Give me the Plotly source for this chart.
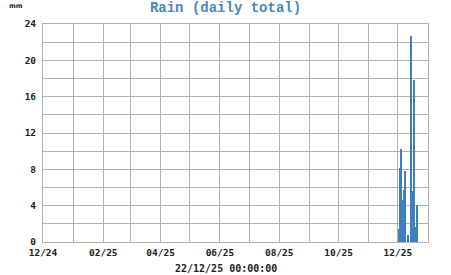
import plotly.graph_objects as go

# Daily rain totals (mm), December 2025
dates = ["2025-12-02", "2025-12-03", "2025-12-04", "2025-12-06", "2025-12-07",
         "2025-12-08", "2025-12-11", "2025-12-14", "2025-12-15", "2025-12-16",
         "2025-12-17", "2025-12-19", "2025-12-20"]
rain = [1.4, 8.1, 10.2, 4.6, 5.7, 7.8, 0.8, 22.7, 5.6, 4.4, 17.8, 1.6, 4.1]

x_start = "2024-12-01"
x_end = "2026-01-01"
y_max = 24
title_text = "Rain (daily total)"
unit_text = "mm"
time_text = "22/12/25 00:00:00"

W, H = 451, 275
L, R, T, B = 43, 23, 24, 33

grid = "#b2b2b2"
blue = "#3f7fbc"

x_mid = [d + " 12:00" for d in dates]

fig = go.Figure(go.Bar(
    x=x_mid, y=rain,
    width=0.75 * 86400000,
    marker=dict(color=blue, line=dict(width=0)),
))

fig.update_layout(
    width=W, height=H,
    margin=dict(l=L, r=R, t=T, b=B, pad=0),
    paper_bgcolor="white", plot_bgcolor="white",
    showlegend=False,
    bargap=0,
    title=dict(text=title_text, x=0.5, xref="container", xanchor="center",
               y=1 - 7 / H, yref="container", yanchor="middle",
               font=dict(family="Liberation Mono", size=14, color="#4a86bd", weight="bold")),
    xaxis=dict(
        type="date", range=[x_start, x_end],
        tick0=x_start, dtick="M2", tickformat="%m/%y", tickangle=0,
        showgrid=True, gridcolor=grid, gridwidth=1,
        minor=dict(dtick="M1", tick0=x_start, showgrid=True, gridcolor=grid, gridwidth=1, ticks=""),
        showline=True, linecolor=grid, linewidth=1, mirror=True,
        ticks="", zeroline=False,
        tickfont=dict(family="DejaVu Sans Mono", size=9.5, color="#222", weight="bold"),
        ticklabelstandoff=2,
    ),
    yaxis=dict(
        range=[0, y_max], dtick=4, tick0=0,
        showgrid=True, gridcolor=grid, gridwidth=1,
        minor=dict(dtick=2, showgrid=True, gridcolor=grid, gridwidth=1, ticks=""),
        showline=True, linecolor=grid, linewidth=1, mirror=True,
        ticks="", zeroline=False,
        tickfont=dict(family="DejaVu Sans Mono", size=9.5, color="#222", weight="bold"),
        ticklabelstandoff=4,
    ),
    annotations=[
        dict(text=unit_text, xref="paper", yref="paper",
             x=(16 - L) / (W - L - R), y=1 + (T - 6) / (H - T - B),
             xanchor="center", yanchor="middle", showarrow=False,
             font=dict(family="DejaVu Sans", size=6.5, color="#222", weight="bold")),
        dict(text=time_text, xref="paper", yref="paper",
             x=(W / 2 - L) / (W - L - R), y=-(268 - (H - B)) / (H - T - B),
             xanchor="center", yanchor="middle", showarrow=False,
             font=dict(family="DejaVu Sans Mono", size=10, color="#222", weight="bold")),
    ],
)

fig.write_html("out.html")
